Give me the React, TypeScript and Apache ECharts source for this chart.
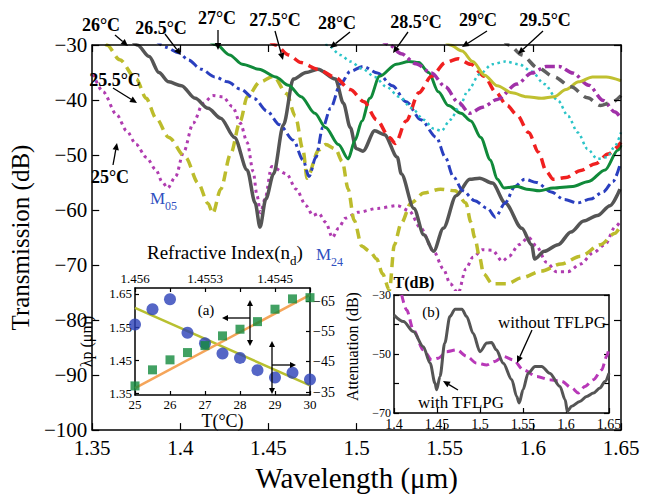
import React, { useEffect, useRef } from 'react';
import * as echarts from 'echarts';

const FONT = '"Liberation Serif", "Times New Roman", serif';

// ---------- Main panel: transmission spectra [wavelength (µm), transmission (dB)] ----------
const t25: number[][] = [[1.3506,-35.3],[1.3561,-38.5],[1.3639,-42.7],[1.3695,-45.6],[1.375,-48.1],[1.3806,-50.4],[1.3862,-52.7],[1.3895,-54.8],[1.3928,-56.0],[1.3973,-53.9],[1.4018,-49.5],[1.4073,-44.2],[1.4129,-40.6],[1.4184,-39.2],[1.424,-39.4],[1.4296,-41.2],[1.434,-44.2],[1.4379,-47.7],[1.4413,-53.0],[1.4435,-57.4],[1.4455,-60.5],[1.448,-58.0],[1.4518,-52.1],[1.4602,-53.4],[1.4657,-56.2],[1.4713,-59.2],[1.4752,-61.0],[1.4785,-60.6],[1.4824,-62.2],[1.4863,-65.0],[1.4897,-63.3],[1.4936,-61.5],[1.5008,-60.4],[1.5119,-59.7],[1.5231,-59.2],[1.5297,-60.1],[1.5364,-63.3],[1.5437,-67.5],[1.5492,-70.7],[1.5531,-73.4],[1.5576,-75.1],[1.562,-70.7],[1.5659,-68.6],[1.5715,-67.2],[1.577,-67.3],[1.5826,-69.3],[1.5865,-68.4],[1.5921,-66.3],[1.5976,-65.0],[1.6021,-66.6],[1.6077,-69.5],[1.6132,-71.2],[1.6199,-71.2],[1.6271,-69.8],[1.6344,-67.7],[1.641,-66.3],[1.6466,-63.1],[1.65,-61.9]];
const t25_5: number[][] = [[1.3533,-27.3],[1.3583,-30.0],[1.3656,-32.7],[1.375,-36.2],[1.3806,-39.7],[1.3862,-43.3],[1.3934,-46.8],[1.4029,-50.4],[1.4101,-55.1],[1.4157,-58.8],[1.4184,-60.6],[1.4229,-56.2],[1.4285,-49.8],[1.434,-43.8],[1.4379,-39.4],[1.4452,-36.7],[1.4529,-35.7],[1.4602,-38.8],[1.4652,-42.9],[1.4696,-49.1],[1.4719,-54.2],[1.4785,-49.1],[1.4824,-48.1],[1.488,-48.9],[1.4919,-51.2],[1.4952,-56.2],[1.4986,-61.9],[1.503,-66.6],[1.5075,-67.5],[1.5114,-68.9],[1.5147,-71.6],[1.5186,-74.6],[1.5214,-66.3],[1.5253,-62.4],[1.5309,-58.7],[1.5381,-56.9],[1.5476,-56.2],[1.5559,-56.5],[1.562,-58.7],[1.5648,-62.2],[1.567,-65.0],[1.5698,-68.6],[1.572,-71.6],[1.577,-73.4],[1.5854,-73.4],[1.5937,-72.3],[1.6049,-71.1],[1.616,-69.8],[1.6271,-68.4],[1.6383,-66.3],[1.6466,-64.2],[1.65,-62.7]];
const t26: number[][] = [[1.37,-28.0],[1.3756,-30.0],[1.3823,-32.1],[1.3878,-35.0],[1.3934,-36.7],[1.4006,-37.4],[1.4084,-39.7],[1.4157,-41.5],[1.4229,-43.3],[1.4307,-46.8],[1.4379,-52.7],[1.4424,-58.7],[1.4452,-63.1],[1.4485,-58.0],[1.4529,-53.4],[1.4585,-44.5],[1.4641,-36.2],[1.4713,-35.0],[1.478,-34.4],[1.488,-36.2],[1.4925,-40.6],[1.4964,-45.0],[1.4997,-48.8],[1.5036,-49.3],[1.5103,-45.6],[1.5158,-46.3],[1.5231,-50.4],[1.5253,-53.4],[1.5325,-59.7],[1.5381,-64.5],[1.5437,-67.5],[1.5492,-63.3],[1.5565,-57.4],[1.5642,-54.4],[1.5698,-54.2],[1.577,-55.1],[1.5843,-58.7],[1.5937,-63.3],[1.5993,-66.3],[1.601,-68.9],[1.6065,-67.5],[1.6143,-66.3],[1.6216,-64.0],[1.6288,-62.0],[1.6366,-61.0],[1.6438,-59.2],[1.6494,-56.2]];
const t26_5: number[][] = [[1.385,-28.8],[1.3917,-30.4],[1.399,-31.4],[1.4045,-32.7],[1.4118,-34.4],[1.4196,-35.8],[1.4268,-36.7],[1.434,-38.0],[1.4418,-39.7],[1.4491,-42.0],[1.4563,-44.5],[1.4641,-47.3],[1.4696,-50.9],[1.473,-53.9],[1.4769,-50.4],[1.4808,-45.0],[1.4852,-41.5],[1.4908,-37.1],[1.4964,-34.8],[1.5036,-33.9],[1.5119,-35.1],[1.5203,-37.4],[1.5281,-40.3],[1.5364,-43.6],[1.5453,-46.8],[1.5503,-50.4],[1.5548,-53.9],[1.5603,-56.5],[1.567,-58.3],[1.5743,-59.7],[1.5787,-61.3],[1.5843,-58.7],[1.5898,-55.7],[1.5954,-54.4],[1.6021,-55.0],[1.6104,-56.7],[1.6177,-58.1],[1.6255,-58.7],[1.6327,-58.0],[1.6399,-56.7],[1.6455,-54.8],[1.6494,-51.8]];
const t27: number[][] = [[1.4157,-29.1],[1.4207,-30.0],[1.4279,-31.8],[1.4351,-33.5],[1.4446,-34.4],[1.4541,-35.8],[1.4613,-37.3],[1.4685,-39.4],[1.4763,-42.4],[1.4824,-45.0],[1.4897,-48.1],[1.4952,-50.7],[1.4991,-47.3],[1.503,-43.8],[1.5075,-39.7],[1.513,-35.7],[1.5225,-33.5],[1.5297,-33.0],[1.5353,-33.2],[1.5409,-35.0],[1.5464,-38.5],[1.552,-41.0],[1.5592,-42.4],[1.5648,-43.8],[1.5704,-46.8],[1.5759,-50.9],[1.5798,-54.4],[1.5837,-56.0],[1.591,-55.7],[1.5965,-56.2],[1.6038,-56.5],[1.6115,-56.0],[1.6227,-55.7],[1.6316,-54.8],[1.641,-52.7],[1.6483,-49.1],[1.65,-48.2]];
const t27_5: number[][] = [[1.4502,-29.1],[1.4541,-30.0],[1.4613,-31.8],[1.4685,-33.2],[1.478,-34.4],[1.4875,-35.8],[1.4964,-38.1],[1.5041,-40.3],[1.5114,-43.6],[1.5186,-46.8],[1.522,-47.9],[1.5281,-43.8],[1.5353,-38.7],[1.5425,-35.7],[1.5503,-33.2],[1.5576,-32.5],[1.5648,-33.5],[1.5726,-35.7],[1.5787,-38.5],[1.5854,-41.0],[1.591,-42.7],[1.5976,-45.9],[1.6032,-49.5],[1.6077,-53.0],[1.6115,-54.4],[1.6188,-54.1],[1.6271,-52.8],[1.6355,-51.6],[1.6427,-49.8],[1.65,-47.7]];
const t28: number[][] = [[1.4797,-29.1],[1.4836,-30.0],[1.4908,-31.8],[1.4964,-33.0],[1.5036,-34.4],[1.5103,-35.8],[1.5169,-37.6],[1.5242,-39.4],[1.5314,-41.5],[1.5381,-43.6],[1.5437,-45.2],[1.5481,-45.6],[1.5531,-43.6],[1.5587,-41.0],[1.5631,-38.3],[1.5698,-35.3],[1.577,-33.5],[1.5843,-33.0],[1.5921,-33.5],[1.5993,-34.8],[1.6065,-37.1],[1.6143,-40.1],[1.6199,-42.9],[1.6255,-45.9],[1.631,-48.9],[1.6366,-50.7],[1.6422,-50.4],[1.6461,-48.6],[1.65,-45.9]];
const t28_5: number[][] = [[1.513,-28.8],[1.5186,-30.0],[1.5253,-31.6],[1.5336,-33.4],[1.5425,-35.1],[1.5503,-37.6],[1.5576,-40.4],[1.5642,-42.4],[1.5715,-41.3],[1.5798,-39.9],[1.591,-37.1],[1.5993,-35.1],[1.6077,-33.9],[1.6149,-33.9],[1.6227,-35.1],[1.6316,-37.3],[1.64,-40.1],[1.6466,-42.2],[1.65,-43.3]];
const t29: number[][] = [[1.5492,-28.8],[1.5531,-30.0],[1.5598,-31.1],[1.5659,-33.0],[1.5726,-35.5],[1.5798,-37.4],[1.5882,-38.7],[1.5965,-39.4],[1.6049,-39.7],[1.6121,-39.4],[1.6188,-38.1],[1.626,-36.7],[1.6338,-35.8],[1.6416,-35.8],[1.65,-36.5]];
const t29_5: number[][] = [[1.5826,-28.8],[1.5865,-30.0],[1.5937,-31.8],[1.6026,-34.1],[1.6121,-35.8],[1.6216,-37.6],[1.631,-39.6],[1.6383,-41.0],[1.6449,-40.4],[1.65,-39.2]];

const spectra = [t25, t25_5, t26, t26_5, t27, t27_5, t28, t28_5, t29, t29_5];
const tempLabels = ['25°C', '25.5°C', '26°C', '26.5°C', '27°C', '27.5°C', '28°C', '28.5°C', '29°C', '29.5°C'];

// ---------- Inset (a) ----------
const insetT = [25, 25.5, 26, 26.5, 27, 27.5, 28, 28.5, 29, 29.5, 30];
const lambdaP = [1.558, 1.604, 1.634, 1.533, 1.501, 1.47, 1.457, 1.42, 1.398, 1.412, 1.392];
const attenuation = [-37.0, -42.3, -45.6, -48.0, -50.3, -53.5, -55.7, -58.2, -62.3, -65.7, -66.1];
const lambdaFit = [[25, 1.608], [30, 1.374]];
const attenFit = [[25, -36.3], [30, -67.0]];
const refIndexTicks: Record<number, string> = { 25: '1.456', 27: '1.4553', 29: '1.4545' };
const lambdaTicks = [1.35, 1.45, 1.55, 1.65];

// ---------- Inset (b) ----------
const withTFLPG: number[][] = [[1.4,-36.8],[1.411,-39.0],[1.4225,-42.4],[1.434,-47.5],[1.442,-53.1],[1.4477,-59.9],[1.4496,-62.1],[1.4535,-57.6],[1.459,-46.3],[1.465,-37.3],[1.471,-34.8],[1.479,-34.8],[1.4845,-37.3],[1.492,-43.0],[1.5,-49.2],[1.508,-46.3],[1.5135,-46.1],[1.519,-48.6],[1.527,-53.1],[1.537,-58.7],[1.5426,-64.4],[1.5457,-66.6],[1.55,-62.1],[1.556,-56.5],[1.564,-54.2],[1.5717,-54.2],[1.581,-56.5],[1.593,-61.0],[1.599,-65.5],[1.6016,-69.4],[1.6066,-67.7],[1.616,-66.1],[1.624,-64.4],[1.632,-63.2],[1.6395,-61.5],[1.6453,-59.3],[1.65,-56.5]];
const withoutTFLPG: number[][] = [[1.409,-30.0],[1.4147,-35.1],[1.4225,-41.8],[1.434,-48.6],[1.4438,-52.0],[1.4516,-51.4],[1.461,-49.2],[1.473,-48.6],[1.4845,-50.8],[1.496,-53.1],[1.508,-53.7],[1.5174,-52.5],[1.527,-50.8],[1.5388,-52.0],[1.5504,-55.4],[1.566,-57.6],[1.581,-58.7],[1.595,-59.3],[1.6066,-61.5],[1.6143,-63.2],[1.622,-61.0],[1.632,-58.7],[1.6415,-55.4],[1.6473,-50.8],[1.65,-48.0]];

// ---------- styles ----------
const spectraStyles = [
  { color: '#b03cb0', type: [3, 4], width: 3 },
  { color: '#bcbc2c', type: [10, 6], width: 3.5 },
  { color: '#555555', type: 'solid', width: 3.5 },
  { color: '#2a3fbf', type: [10, 4, 3, 4], width: 3 },
  { color: '#108a3a', type: 'solid', width: 3 },
  { color: '#f02020', type: [10, 6], width: 3.5 },
  { color: '#2bc4c8', type: [2.5, 3.5], width: 2.5 },
  { color: '#a030a8', type: [10, 4, 3, 4], width: 3.5 },
  { color: '#c0c030', type: 'solid', width: 3 },
  { color: '#606060', type: [10, 7], width: 3.5 },
];

const minus = (v: number) => (v < 0 ? '\u2212' + Math.abs(v) : String(v));
const dec = (v: number) => String(Number(v.toFixed(2)));

function arrow(x1: number, y1: number, x2: number, y2: number, h = 7, w = 3.2): any[] {
  const a = Math.atan2(y2 - y1, x2 - x1);
  const bx = x2 - h * Math.cos(a);
  const by = y2 - h * Math.sin(a);
  const px = -Math.sin(a) * w;
  const py = Math.cos(a) * w;
  return [
    { type: 'line', z: 70, shape: { x1, y1, x2: bx, y2: by }, style: { stroke: '#000', lineWidth: 1.3 } },
    { type: 'polygon', z: 70, shape: { points: [[x2, y2], [bx + px, by + py], [bx - px, by - py]] }, style: { fill: '#000' } },
  ];
}

function txt(x: number, y: number, text: string, size: number, extra: any = {}): any {
  return {
    type: 'text', z: 70, x, y,
    style: {
      text, fontSize: size, fontFamily: FONT, fill: '#000',
      textAlign: 'center', textVerticalAlign: 'middle', ...extra,
    },
  };
}

const topLabelPos = [
  [110, 177], [115, 80], [101, 25], [161, 28], [217, 18], [275, 20], [337, 23], [416, 22], [478, 20], [545, 20],
];
const topArrows = [
  [113, 165, 117, 143], [113, 88, 137, 103], [115, 35, 128, 46], [165, 34, 181, 55], [218, 30, 218, 50],
  [275, 31, 283, 60], [350, 32, 330, 48], [408, 32, 393, 53], [487, 31, 462, 47], [543, 31, 518, 54],
];

export default function App() {
  const ref = useRef<HTMLDivElement>(null);
  useEffect(() => {
    if (!ref.current) return;
    const chart = echarts.init(ref.current, undefined, { renderer: 'svg' });

    const axisLine = { show: true, lineStyle: { color: '#000', width: 1.5 } };
    const tick = (len: number) => ({ show: true, inside: true, length: len, lineStyle: { color: '#000', width: 1.2 } });
    const lab = (size: number, extra: any = {}) => ({ color: '#000', fontFamily: FONT, fontSize: size, ...extra });

    const graphic: any[] = [
      { type: 'rect', z: 50, shape: { x: 84, y: 291, width: 536, height: 147 }, style: { fill: '#fff' } },
    ];
    tempLabels.forEach((t, i) => {
      graphic.push(txt(topLabelPos[i][0], topLabelPos[i][1], t, 18, { fontWeight: 'bold' }));
    });
    topArrows.forEach((a) => graphic.push(...arrow(a[0], a[1], a[2], a[3])));
    const subRich = (size: number, sub: number, color: string) => ({
      m: { fontSize: size, fontFamily: FONT, fill: color, color, verticalAlign: 'bottom', padding: [0, 0, 5, 0] },
      s: { fontSize: sub, fontFamily: FONT, fill: color, color, verticalAlign: 'bottom' },
    });
    graphic.push({
      type: 'text', z: 70, x: 150, y: 201,
      style: { text: '{m|M}{s|05}', textVerticalAlign: 'middle', fill: '#3050c0', rich: subRich(17, 12, '#3050c0') },
    });
    graphic.push({
      type: 'text', z: 70, x: 316, y: 257,
      style: { text: '{m|M}{s|24}', textVerticalAlign: 'middle', fill: '#3050c0', rich: subRich(17, 12, '#3050c0') },
    });
    graphic.push({
      type: 'text', z: 70, x: 147, y: 255,
      style: { text: '{m|Refractive Index(n}{s|d}{m|)}', textVerticalAlign: 'middle', fill: '#000', rich: subRich(19, 13, '#000') },
    });
    graphic.push(txt(206, 310, '(a)', 15));
    graphic.push(txt(431, 312, '(b)', 15));
    graphic.push(txt(414, 282, 'T(dB)', 16, { fontWeight: 'bold' }));
    graphic.push(txt(552, 322, 'without TFLPG', 17));
    graphic.push(txt(461, 402, 'with TFLPG', 17));
    graphic.push(...arrow(532, 330, 517, 363));
    graphic.push(...arrow(458, 390, 443, 381));
    // inset (a) cross arrows
    graphic.push(...arrow(250, 318, 250, 300, 6, 3));
    graphic.push(...arrow(250, 318, 250, 346, 6, 3));
    graphic.push(...arrow(250, 318, 222, 318, 6, 3));
    graphic.push(...arrow(272, 365, 272, 341, 6, 3));
    graphic.push(...arrow(272, 365, 272, 394, 6, 3));
    graphic.push(...arrow(272, 365, 296, 365, 6, 3));

    const mainSeries = spectra.map((d, i) => ({
      type: 'line', name: tempLabels[i], data: d, xAxisIndex: 0, yAxisIndex: 0,
      showSymbol: false, smooth: 0.3, smoothMonotone: 'x', z: 2,
      lineStyle: { color: spectraStyles[i].color, type: spectraStyles[i].type as any, width: spectraStyles[i].width, cap: 'butt' },
    }));

    // attenuation is plotted on a magnitude axis (|dB|, growing upward) and labelled with its sign
    const attenPoints = insetT.map((t, i) => [t, -attenuation[i]]);
    const attenFitPoints = attenFit.map((p) => [p[0], -p[1]]);

    const option: any = {
      animation: false,
      backgroundColor: '#fff',
      grid: [
        { left: 82, top: 45, width: 539, height: 395 },
        { left: 135, top: 288, width: 175, height: 107 },
        { left: 394, top: 295, width: 215, height: 118 },
        { left: 135, top: 301, width: 175, height: 91 },
      ],
      xAxis: [
        {
          gridIndex: 0, type: 'value', min: 1.35, max: 1.65, interval: 0.05, position: 'bottom', z: 55,
          axisLine, axisTick: tick(7), splitLine: { show: false },
          axisLabel: lab(21, { margin: 7, formatter: dec }),
          name: 'Wavelength (\u03bcm)', nameLocation: 'middle', nameGap: 28,
          nameTextStyle: lab(29),
        },
        {
          gridIndex: 0, type: 'value', min: 1.35, max: 1.65, interval: 0.05, position: 'top', z: 55,
          axisLine, axisTick: tick(7), splitLine: { show: false }, axisLabel: { show: false },
        },
        {
          gridIndex: 1, type: 'value', min: 25, max: 30, interval: 1, position: 'bottom', z: 60,
          axisLine, axisTick: tick(4), splitLine: { show: false },
          axisLabel: lab(13, { margin: 3 }),
          name: 'T(\u00b0C)', nameLocation: 'middle', nameGap: 17, nameTextStyle: lab(18),
        },
        {
          gridIndex: 1, type: 'value', min: 25, max: 30, interval: 1, position: 'top', z: 60,
          axisLine, axisTick: tick(4), splitLine: { show: false },
          axisLabel: lab(13, { margin: 3, formatter: (v: number) => refIndexTicks[v] || '' }),
        },
        {
          gridIndex: 2, type: 'value', min: 1.4, max: 1.65, interval: 0.05, position: 'bottom', z: 60,
          axisLine, axisTick: tick(5), splitLine: { show: false },
          axisLabel: lab(14, { margin: 4, formatter: dec }),
        },
        {
          gridIndex: 2, type: 'value', min: 1.4, max: 1.65, interval: 0.05, position: 'top', z: 60,
          axisLine, axisTick: { show: false }, splitLine: { show: false }, axisLabel: { show: false },
        },
        {
          gridIndex: 3, type: 'value', min: 25, max: 30, show: false,
        },
      ],
      yAxis: [
        {
          gridIndex: 0, type: 'value', min: -100, max: -30, interval: 10, position: 'left', z: 55,
          axisLine, axisTick: tick(7), splitLine: { show: false },
          axisLabel: lab(21, { margin: 5, formatter: minus }),
          name: 'Transmission (dB)', nameLocation: 'middle', nameGap: 47,
          nameTextStyle: lab(25),
        },
        {
          gridIndex: 0, type: 'value', min: -100, max: -30, interval: 10, position: 'right', z: 55,
          axisLine, axisTick: tick(7), splitLine: { show: false }, axisLabel: { show: false },
        },
        {
          gridIndex: 1, type: 'value', min: 1.345, max: 1.668, position: 'left', z: 60,
          axisLine, axisTick: { ...tick(4), customValues: lambdaTicks }, splitLine: { show: false },
          axisLabel: lab(13, { margin: 3, customValues: lambdaTicks, formatter: dec }),
          name: '\u03bbp (\u03bcm)', nameLocation: 'middle', nameGap: 41, nameTextStyle: lab(16),
        },
        {
          gridIndex: 1, type: 'value', min: 0, max: 1, position: 'right', z: 60,
          axisLine, axisTick: { show: false }, splitLine: { show: false }, axisLabel: { show: false },
        },
        {
          gridIndex: 2, type: 'value', min: -70, max: -30, interval: 10, position: 'left', z: 60,
          axisLine, axisTick: tick(5), splitLine: { show: false },
          axisLabel: lab(12, { margin: 3, formatter: (v: number) => ((v + 30) % 20 === 0 ? minus(v) : '') }),
        },
        {
          gridIndex: 2, type: 'value', min: -70, max: -30, interval: 10, position: 'right', z: 60,
          axisLine, axisTick: tick(5), splitLine: { show: false }, axisLabel: { show: false },
        },
        {
          gridIndex: 3, type: 'value', min: 35, max: 65, interval: 10, position: 'right', z: 60,
          axisLine: { show: false }, axisTick: tick(4), splitLine: { show: false },
          axisLabel: lab(14, { margin: 3, formatter: (v: number) => '\u2212' + v }),
          name: 'Attenuation (dB)', nameLocation: 'middle', nameGap: 34, nameRotate: 90, nameTextStyle: lab(16),
        },
      ],
      graphic: { elements: graphic },
      series: [
        ...mainSeries,
        {
          type: 'line', data: lambdaFit, xAxisIndex: 2, yAxisIndex: 2, showSymbol: false, z: 61,
          lineStyle: { color: '#b8c030', width: 2.5 },
        },
        {
          type: 'line', data: attenFitPoints, xAxisIndex: 6, yAxisIndex: 6, showSymbol: false, z: 61, clip: false,
          lineStyle: { color: '#f5a55a', width: 2.5 },
        },
        {
          type: 'scatter', data: insetT.map((t, i) => [t, lambdaP[i]]), xAxisIndex: 2, yAxisIndex: 2, z: 62,
          symbol: 'circle', symbolSize: 12, itemStyle: { color: '#2a40b8' },
        },
        {
          type: 'scatter', data: attenPoints, xAxisIndex: 6, yAxisIndex: 6, z: 62, clip: false,
          symbol: 'rect', symbolSize: 9, itemStyle: { color: '#138a3c' },
        },
        {
          type: 'line', data: withoutTFLPG, xAxisIndex: 4, yAxisIndex: 4, showSymbol: false, z: 61,
          smooth: 0.3, smoothMonotone: 'x',
          lineStyle: { color: '#b838b8', width: 3, type: [8, 5] },
        },
        {
          type: 'line', data: withTFLPG, xAxisIndex: 4, yAxisIndex: 4, showSymbol: false, z: 61,
          smooth: 0.3, smoothMonotone: 'x',
          lineStyle: { color: '#555555', width: 3 },
        },
      ],
    };
    chart.setOption(option);
    return () => chart.dispose();
  }, []);
  return <div ref={ref} style={{ position: 'fixed', left: 0, top: 0, width: 655, height: 497, background: '#fff' }} />;
}
